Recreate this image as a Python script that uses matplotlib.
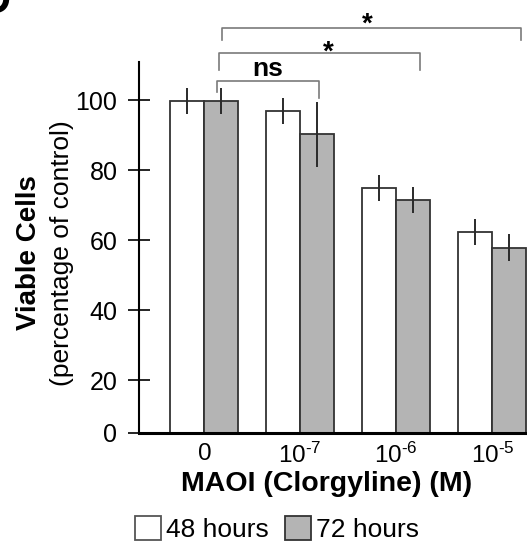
import matplotlib
matplotlib.use("Agg")
import matplotlib.pyplot as plt
from matplotlib.patches import Patch
import numpy as np

plt.rcParams['font.family'] = ['Liberation Sans', 'DejaVu Sans']
plt.rcParams['mathtext.fontset'] = 'custom'
plt.rcParams['mathtext.rm'] = 'Liberation Sans'

# ---- data ----
categories = [r"$\mathregular{0}$", r"$\mathregular{10^{\text{-}7}}$",
              r"$\mathregular{10^{\text{-}6}}$", r"$\mathregular{10^{\text{-}5}}$"]
viable_48h = [99.8, 96.9, 74.9, 62.4]
err_48h = [3.7, 3.8, 3.7, 3.75]
viable_72h = [99.7, 90.2, 71.4, 57.8]
err_72h = [3.8, 9.2, 3.8, 3.8]
series_labels = ["48 hours", "72 hours"]
ytick_values = [20, 40, 60, 80, 100]
ytick_labels = ["0", "20", "40", "60", "80", "100"]
# significance brackets: (x_left, x_right, y_top, y_left_end, y_right_end, label, label_x, label_y)
brackets = [
    (0.135, 1.197, 105.4, 102.3, 100.6, "ns", 0.666, 106.9),
    (0.156, 2.248, 113.4, 108.6, 108.6, "*", 1.29, 111.6),
    (0.187, 3.30, 120.6, 117.1, 117.1, "*", 1.70, 119.7),
]

W, H = 527, 546
fig = plt.figure(figsize=(W / 100, H / 100), dpi=100)
ax_h = 433 - 62
ax = fig.add_axes([139 / W, (H - 433) / H, (W - 139) / W, ax_h / H])

x = np.arange(len(categories))
bw = 0.354
white_c = "white"
gray_c = "#b4b4b4"
edge_c = "#333333"

ax.bar(x - bw / 2, viable_48h, width=bw, color=white_c, edgecolor=edge_c, linewidth=1.3, zorder=2)
ax.bar(x + bw / 2, viable_72h, width=bw, color=gray_c, edgecolor=edge_c, linewidth=1.3, zorder=2)
ax.errorbar(x - bw / 2, viable_48h, yerr=err_48h, fmt="none", ecolor="#2a2a2a", elinewidth=1.4, capsize=0, zorder=3)
ax.errorbar(x + bw / 2, viable_72h, yerr=err_72h, fmt="none", ecolor="#2a2a2a", elinewidth=1.4, capsize=0, zorder=3)

ybot = 4.86
ax.set_ylim(ybot, 110.9)
ax.set_xlim(-0.676, 3.36)

ax.set_yticks([ybot] + ytick_values)
ax.set_yticklabels(ytick_labels, fontsize=18)
ax.tick_params(axis="y", direction="inout", length=16, width=1.2, pad=7.5, colors="black")

ax.set_xticks(x)
ax.set_xticklabels(categories, fontsize=17.5)
ax.tick_params(axis="x", length=0, pad=21.5)
for i, lab in enumerate(ax.get_xticklabels()):
    lab.set_va("baseline")
    if i == 0:
        lab.set_y(2.5 / ax_h)  # align the plain "0" with the superscripted labels' baseline

for s in ["top", "right"]:
    ax.spines[s].set_visible(False)
ax.spines["left"].set_linewidth(1.5)
ax.spines["bottom"].set_linewidth(2.2)
ax.spines["bottom"].set_zorder(4)

for (xl, xr, yt, yl, yr, lab, lx, ly) in brackets:
    ax.plot([xl, xl, xr, xr], [yl, yt, yt, yr], color="#7a7a7a", lw=1.2,
            clip_on=False, solid_joinstyle="round", zorder=5)
    ax.text(lx, ly, lab, ha="center", va="baseline", fontsize=20 if lab != "ns" else 19,
            fontweight="bold", clip_on=False)

# axis labels
fig.text(327 / W, 1 - 484 / H, "MAOI (Clorgyline) (M)", ha="center", va="center",
         fontsize=20.5, fontweight="bold")
fig.text(29 / W, 1 - 253 / H, "Viable Cells", rotation=90, ha="center", va="center",
         fontsize=20, fontweight="bold")
fig.text(62 / W, 1 - 253 / H, "(percentage of control)", rotation=90, ha="center", va="center",
         fontsize=19)

# panel letter (partially cut off at the top-left, as in the reference)
fig.text(-20 / W, 1 - 13 / H, "D", ha="left", va="baseline", fontsize=30, fontweight="bold")

# legend
handles = [Patch(facecolor=white_c, edgecolor="#555555", linewidth=1.3),
           Patch(facecolor=gray_c, edgecolor="#333333", linewidth=1.3)]
fig.legend(handles, series_labels, loc="center", bbox_to_anchor=(277 / W, 1 - 529 / H),
           ncol=2, frameon=False, fontsize=19, handlelength=1.0, handleheight=1.05,
           handletextpad=0.2, columnspacing=0.6, borderpad=0, borderaxespad=0)

fig.savefig("out.png", dpi=100)
